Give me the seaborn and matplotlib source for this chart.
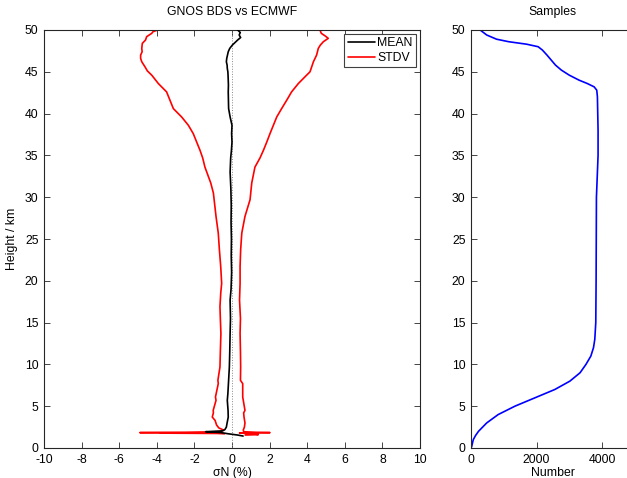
import matplotlib
matplotlib.use("Agg")
import matplotlib.pyplot as plt
import seaborn as sns
import numpy as np

# ---------------- data ----------------
# Mean difference profile (sigma N, %) vs height (km)
mean_height = [50.0, 49.7, 49.4, 49.1, 48.8, 48.5, 48.2, 47.8, 47.4, 47.0, 46.6, 46.2,
               45.8, 45.4, 45.0, 44.6, 44.0, 43.4, 42.6, 41.6, 40.6, 39.6, 38.6, 37.6,
               36.6, 35.6, 34.7, 33.0, 31.0, 29.0, 27.0, 25.0, 23.0, 21.0, 19.0, 17.7,
               15.5, 13.7, 11.5, 9.7, 8.5, 7.7, 6.5, 5.7, 4.5, 3.7, 3.0, 2.5, 2.2,
               2.05, 1.95, 1.85, 1.7, 1.55, 1.43]
mean_vals = [0.30, 0.44, 0.38, 0.46, 0.30, 0.16, 0.02, -0.12, -0.20, -0.24, -0.28, -0.30,
             -0.26, -0.25, -0.22, -0.21, -0.20, -0.19, -0.20, -0.19, -0.18, -0.10, 0.00, -0.02,
             0.00, -0.03, -0.07, -0.10, -0.06, -0.04, -0.05, -0.03, -0.04, -0.02, -0.05, -0.10,
             -0.08, -0.10, -0.12, -0.14, -0.17, -0.19, -0.22, -0.25, -0.21, -0.20, -0.26, -0.30, -0.38,
             -0.50, -1.40, -0.60, -0.20, 0.30, 0.59]

# STDV envelope, lower branch
lower_height = [50.0, 49.8, 49.6, 49.2, 48.8, 48.4, 47.8, 47.4, 47.0, 46.6, 46.2, 45.6,
                45.1, 44.6, 43.6, 42.6, 41.6, 40.6, 39.6, 38.6, 37.6, 36.6, 35.6, 34.7,
                33.6, 31.7, 30.5, 27.7, 25.7, 23.7, 21.7, 19.7, 18.5, 16.9, 15.5, 13.7,
                11.5, 9.7, 8.1, 7.7, 6.1, 5.7, 4.5, 4.2, 3.7, 3.3, 2.75, 2.4, 2.15,
                1.95, 1.87, 1.84, 1.82, 1.78, 1.74, 1.70]
lower_vals = [-3.95, -4.20, -4.27, -4.54, -4.60, -4.77, -4.80, -4.78, -4.86, -4.86, -4.80, -4.63,
              -4.50, -4.27, -3.92, -3.48, -3.30, -3.12, -2.68, -2.32, -2.06, -1.88, -1.70, -1.56,
              -1.44, -1.13, -0.99, -0.85, -0.73, -0.67, -0.60, -0.55, -0.60, -0.64, -0.62, -0.59,
              -0.62, -0.64, -0.75, -0.73, -0.88, -0.85, -1.00, -0.99, -1.05, -0.90, -0.82, -0.70, -0.45,
              -0.60, -2.50, -4.90, -1.20, -3.80, -0.80, -0.40]

# STDV envelope, upper branch
upper_height = [50.0, 49.6, 49.3, 49.0, 48.6, 48.2, 47.8, 47.0, 46.2, 45.6, 45.0, 44.6,
                43.6, 42.6, 41.6, 40.6, 39.6, 38.6, 37.6, 36.6, 35.6, 34.7, 33.6, 31.7,
                29.7, 27.7, 25.7, 23.7, 21.7, 19.7, 17.7, 15.5, 13.7, 11.5, 9.7, 8.1,
                7.7, 6.1, 5.7, 4.5, 4.2, 3.7, 3.0, 2.5, 2.15, 1.95, 1.87, 1.84, 1.80,
                1.70, 1.60, 1.55]
upper_vals = [4.68, 4.75, 4.95, 5.12, 4.86, 4.70, 4.59, 4.50, 4.33, 4.24, 4.15, 3.97,
              3.53, 3.17, 2.91, 2.64, 2.38, 2.20, 2.02, 1.85, 1.67, 1.49, 1.22, 1.05,
              0.96, 0.69, 0.52, 0.46, 0.43, 0.43, 0.40, 0.45, 0.43, 0.45, 0.46, 0.45,
              0.57, 0.57, 0.60, 0.69, 0.62, 0.64, 0.69, 0.66, 0.60, 0.62, 1.30, 2.02, 0.40,
              1.10, 1.40, 0.70]

# Number of samples vs height
samp_height = [0.0, 0.16, 0.5, 1.0, 1.5, 2.0, 3.0, 4.0, 5.0, 6.0, 7.0, 8.0, 9.0, 10.0, 11.0,
               12.0, 13.0, 15.0, 20.0, 25.0, 30.0, 33.0, 35.0, 38.0, 40.0, 42.0, 42.8, 43.2,
               43.6, 44.0, 44.6, 45.2, 45.8, 46.4, 47.0, 47.6, 48.0, 48.3, 48.6, 48.9,
               49.4, 50.0]
samp_vals = [0, 20, 40, 70, 140, 230, 480, 830, 1340, 1950, 2560, 3020, 3330, 3510, 3660,
             3740, 3780, 3810, 3820, 3825, 3830, 3860, 3880, 3880, 3870, 3860, 3840, 3760,
             3550, 3300, 3000, 2760, 2580, 2450, 2320, 2180, 2050, 1700, 1150, 780,
             480, 280]

left_xticks = [-10, -8, -6, -4, -2, 0, 2, 4, 6, 8, 10]
yticks = [0, 5, 10, 15, 20, 25, 30, 35, 40, 45, 50]
right_xticks = [0, 2000, 4000]

# ---------------- style ----------------
sns.set_style("ticks", {
    "xtick.direction": "in", "ytick.direction": "in",
    "axes.edgecolor": "#262626",
})
plt.rcParams["font.family"] = ["Liberation Sans", "DejaVu Sans"]
plt.rcParams["font.size"] = 8.8
plt.rcParams["axes.unicode_minus"] = False
plt.rcParams["text.color"] = "black"
plt.rcParams["axes.labelcolor"] = "black"
plt.rcParams["xtick.top"] = True
plt.rcParams["ytick.right"] = True
plt.rcParams["xtick.major.size"] = 4
plt.rcParams["ytick.major.size"] = 4
plt.rcParams["xtick.major.width"] = 0.6
plt.rcParams["ytick.major.width"] = 0.6
plt.rcParams["axes.linewidth"] = 0.8

fig = plt.figure(figsize=(6.27, 4.78), dpi=100)
ax1 = fig.add_axes([44 / 627, 1 - 448 / 478, 376 / 627, 418 / 478])
ax2 = fig.add_axes([471 / 627, 1 - 448 / 478, 163.75 / 627, 418 / 478])

# ---------------- left panel ----------------
ax1.axvline(0, color="#888888", linestyle=":", linewidth=0.7, zorder=1)
sns.lineplot(x=mean_vals, y=mean_height, sort=False, estimator=None, ax=ax1,
             color="black", linewidth=1.2, label="MEAN", zorder=3)
sns.lineplot(x=lower_vals, y=lower_height, sort=False, estimator=None, ax=ax1,
             color="red", linewidth=1.2, label="STDV", zorder=2)
sns.lineplot(x=upper_vals, y=upper_height, sort=False, estimator=None, ax=ax1,
             color="red", linewidth=1.2, zorder=2)
ax1.set_xlim(-10, 10)
ax1.set_ylim(0, 50)
ax1.set_xticks(left_xticks)
ax1.set_yticks(yticks)
ax1.set_xlabel("σN (%)", labelpad=1)
ax1.set_ylabel("Height / km", labelpad=5)
ax1.set_title("GNOS BDS vs ECMWF", fontsize=8.8, pad=11, color="black")
leg = ax1.legend(loc="upper right", frameon=True, fancybox=False, framealpha=1,
                 edgecolor="#404040", handlelength=2.2, borderaxespad=0.3,
                 borderpad=0.3, labelspacing=0.2, handletextpad=0.2)
leg.get_frame().set_linewidth(0.8)

# ---------------- right panel ----------------
sns.lineplot(x=samp_vals, y=samp_height, sort=False, estimator=None, ax=ax2,
             color="blue", linewidth=1.2)
ax2.set_xlim(0, 5000)
ax2.set_ylim(0, 50)
ax2.set_xticks(right_xticks)
ax2.set_yticks(yticks)
ax2.set_xlabel("Number", labelpad=1)
ax2.set_title("Samples", fontsize=8.8, pad=11, color="black")

for ax in (ax1, ax2):
    ax.tick_params(axis="both", which="both", labelsize=8.8, pad=4,
                   top=True, right=True, colors="#262626", labelcolor="black")
    for s in ax.spines.values():
        s.set_visible(True)

fig.savefig("out.png", dpi=100)
